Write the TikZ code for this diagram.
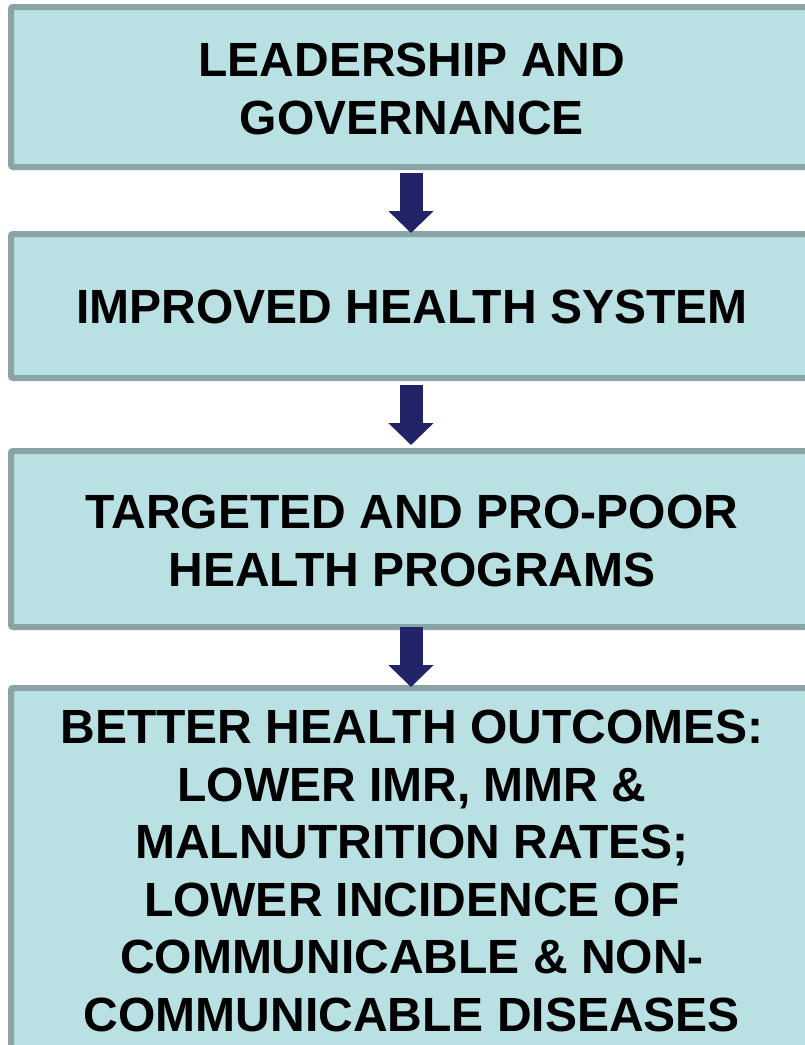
\documentclass[tikz,border=0pt]{standalone}
\usepackage{fontspec}
\setmainfont{Liberation Sans}
\usetikzlibrary{calc,arrows.meta}
\definecolor{boxfill}{RGB}{185,224,227}
\definecolor{boxline}{RGB}{138,164,166}
\definecolor{arrowcol}{RGB}{35,35,104}
\tikzset{
  stagebox/.style={draw=boxline, fill=boxfill, line width=6pt, rounded corners=2pt, outer sep=0pt, inner sep=0pt, anchor=north west},
  stagetext/.style={anchor=north, align=center, inner sep=0pt, text=black,
    font=\fontsize{48}{57.5}\selectfont\bfseries},
  flowarrow/.style={draw=arrowcol, line width=23pt, -{Triangle[width=44pt,length=22pt]}}
}
\begin{document}
\begin{tikzpicture}[x=1pt,y=-1pt]
\useasboundingbox (0,0) rectangle (804,1045);
\fill[white] (0,0) rectangle (804,1045);
\node[stagebox, minimum width=809pt, minimum height=160pt] (b1) at (11,7) {};
\node[stagebox, minimum width=809pt, minimum height=144pt] (b2) at (11,234) {};
\node[stagebox, minimum width=809pt, minimum height=176pt] (b3) at (11,451) {};
\node[stagebox, minimum width=809pt, minimum height=420pt] (b4) at (11,688) {};
\node[stagetext] (t1) at (412,43) {LEADERSHIP AND\\GOVERNANCE};
\node[stagetext] (t2) at (412,290) {IMPROVED HEALTH SYSTEM};
\node[stagetext] (t3) at (412,495) {TARGETED AND PRO-POOR\\HEALTH PROGRAMS};
\node[stagetext] (t4) at (412,710) {BETTER HEALTH OUTCOMES:\\LOWER IMR, MMR \&\\MALNUTRITION RATES;\\LOWER INCIDENCE OF\\COMMUNICABLE \& NON-\\COMMUNICABLE DISEASES};
\coordinate (ax) at (411,0);
\draw[flowarrow] ($(b1.south -| ax)+(0,6)$) -- ($(b2.north -| ax)+(0,-1)$);
\draw[flowarrow] ($(b2.south -| ax)+(0,7)$) -- ($(b3.north -| ax)+(0,-6)$);
\draw[flowarrow] ($(b3.south -| ax)+(0,0)$) -- ($(b4.north -| ax)+(0,-1)$);
\end{tikzpicture}
\end{document}
